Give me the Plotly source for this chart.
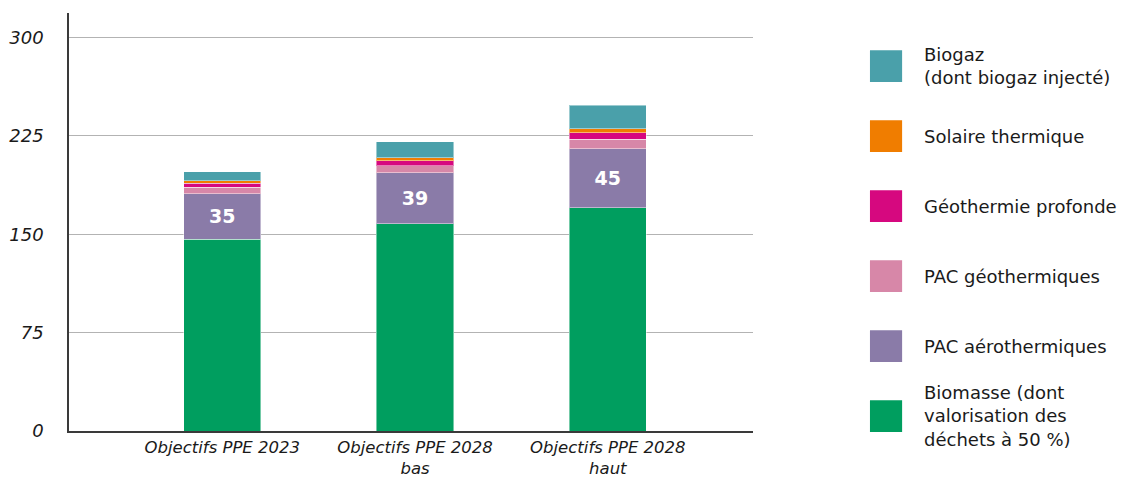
import plotly.graph_objects as go

# Scenarios on the x axis
categories = ["Objectifs PPE 2023", "Objectifs PPE 2028<br>bas", "Objectifs PPE 2028<br>haut"]

# Renewable heat by source (TWh), stacked bottom to top
biomasse = [146, 158, 170]
pac_aero = [35, 39, 45]
pac_geo = [4.8, 5.3, 7.4]
geo_profonde = [3.0, 3.8, 4.8]
solaire = [1.8, 2.3, 3.0]
biogaz = [7.0, 12.0, 18.0]

series = [
    ("Biomasse (dont<br>valorisation des<br>déchets à 50 %)", biomasse, "#009E5F"),
    ("PAC aérothermiques", pac_aero, "#8A7BA8"),
    ("PAC géothermiques", pac_geo, "#D787A8"),
    ("Géothermie profonde", geo_profonde, "#D6087F"),
    ("Solaire thermique", solaire, "#F07D00"),
    ("Biogaz<br>(dont biogaz injecté)", biogaz, "#4AA0AA"),
]

y_ticks = [0, 75, 150, 225, 300]

FONT = "DejaVu Sans"
TEXT = "#1a1a1a"

fig = go.Figure()
for name, vals, color in series:
    labelled = vals is pac_aero
    fig.add_trace(go.Bar(
        x=[0, 1, 2],
        y=vals,
        name=name,
        width=0.4,
        marker=dict(color=color, line=dict(color="rgba(255,255,255,0.45)", width=1)),
        text=[f"{v:g}" for v in vals] if labelled else None,
        textposition="inside" if labelled else "none",
        insidetextanchor="middle",
        textfont=dict(family=FONT, size=19, color="white", weight="bold"),
        showlegend=False,
        hoverinfo="skip",
    ))

# Legend drawn as large swatches with labels, top entry first
legend_rows = list(reversed(series))
row_top = 0.873
row_step = 0.1675
for i, (name, _, color) in enumerate(legend_rows):
    yc = row_top - i * row_step
    fig.add_shape(type="rect", xref="paper", yref="paper",
                  x0=1.171, x1=1.218, y0=yc - 0.038, y1=yc + 0.038,
                  fillcolor=color, line=dict(width=0))
    fig.add_annotation(xref="paper", yref="paper", x=1.247, y=yc,
                       text=name, showarrow=False, xanchor="left", yanchor="middle",
                       align="left", font=dict(family=FONT, size=18, color=TEXT))

fig.update_layout(
    barmode="stack",
    width=1146, height=477,
    margin=dict(l=69, r=393, t=13, b=46, autoexpand=False),
    paper_bgcolor="white", plot_bgcolor="white",
    font=dict(family=FONT, color=TEXT),
    xaxis=dict(
        range=[-0.795, 2.753],
        tickmode="array", tickvals=[0, 1, 2], ticktext=categories,
        tickfont=dict(family=FONT, size=16.5, style="italic", color=TEXT),
        showline=True, linecolor="#3a3a3a", linewidth=2,
        showgrid=False, zeroline=False, ticks="", automargin=False,
        ticklabelstandoff=0,
    ),
    yaxis=dict(
        range=[0, 318.6],
        tickmode="array", tickvals=y_ticks,
        tickfont=dict(family=FONT, size=18, style="italic", color=TEXT),
        showline=True, linecolor="#3a3a3a", linewidth=1.5,
        showgrid=True, gridcolor="#b3b3b3", gridwidth=1,
        zeroline=False, ticks="", ticklabelstandoff=20, automargin=False,
    ),
)

fig.write_html("out.html")
